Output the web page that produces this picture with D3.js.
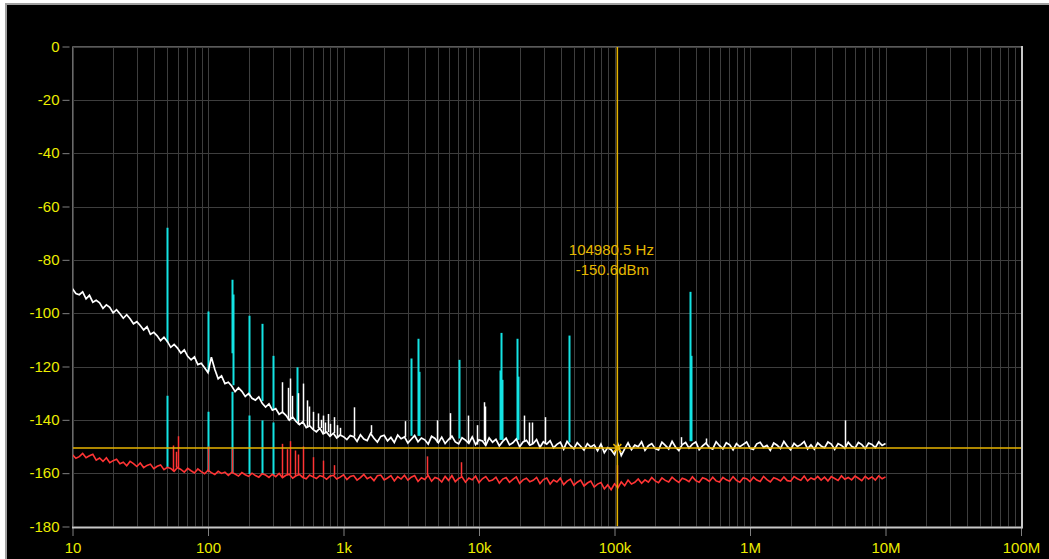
<!DOCTYPE html>
<html>
<head>
<meta charset="utf-8">
<script src="https://cdn.jsdelivr.net/npm/d3@7"></script>
<style>
  html, body { margin: 0; padding: 0; background: #fff; }
  svg { display: block; }
  text { font-family: "Liberation Sans", Arial, sans-serif; }
</style>
</head>
<body>
<svg width="1049" height="559"></svg>
<script>
// traces are sampled 40 points per decade, starting at 10 Hz, up to 10 MHz
var traceStart = 10;
var pointsPerDecade = 40;

// white trace (measured spectrum), dBm
var whiteTrace = [
  -90.8, -92.6, -93.1, -92, -94.6, -93.3, -95.9, -95.2, -96.1, -98.2,
  -96.9, -97.8, -99.9, -98.7, -100.2, -101.9, -100.6, -102.1, -104, -103.2,
  -104.6, -106.3, -105.1, -107.9, -107.2, -108.5, -110.3, -109, -110.6, -112.8,
  -111.7, -113.1, -115, -113.8, -116.2, -117.5, -116.4, -119.3, -118.8, -120.5,
  -122.3, -116.5, -121, -124.6, -123.5, -126.4, -125.9, -127.3, -129.4, -128,
  -129.3, -131.2, -130.1, -131.9, -132.6, -131.4, -133.8, -135.2, -134, -136.4,
  -135.8, -137.9, -137.1, -138.3, -140.1, -138.9, -140.6, -141.8, -140.7, -142.9,
  -142.2, -143.6, -144.5, -143.1, -145.3, -144.6, -146.2, -145, -146.8, -145.7,
  -146.3,
  -147.4, -145.9, -146.3, -148.1, -145.6, -147.2, -147.8, -145.1, -146.9, -148.3,
  -146.2, -145.8, -147.9, -146.6, -148.5, -145.7, -147.1, -146.4, -148.7, -147.3,
  -145.9, -148.2, -146.8, -147.5, -149.1, -146.2, -147, -148.6, -146.5, -148.9,
  -147.4, -146.1, -148.3, -149, -146.7, -147.6, -148.8, -146.4, -149.3, -147.5,
  -147.9, -149.6, -146.8, -148.4, -147.3, -149.8, -148.1, -146.9, -149.4, -148.6,
  -147.2, -150.1, -148.3, -147.7, -149.5, -148.9, -147.4, -150.3, -148.2, -149.1,
  -147.8, -150.5, -149.2, -148.4, -151, -148.1, -149.7, -150.8, -148.6, -149.9,
  -151.3, -148.9, -150.2, -149.4, -151.6, -149.1, -152.3, -150.4, -151.2, -153,
  -149.2, -153.4, -150.9, -148.6, -151.2, -149.5, -150.1, -148.2, -151.4, -149.7,
  -148.9, -150.8, -151.3, -148.4, -149.6, -150.9, -148.1, -150.2, -151.5, -149.3,
  -148.5, -150.6, -149.1, -148.3, -151.2, -149.8, -148.7, -150.4, -151, -148.2,
  -149.7, -150.9, -148.6, -149.4, -151.3, -148.9, -150.1, -149.2, -148.3, -150.7,
  -151.1, -149, -148.4, -150.3, -149.6, -151.4, -148.7, -149.5, -150.8, -148.1,
  -149.9, -151.2, -148.8, -150, -149.3, -148.2, -150.9, -149.4, -151, -148.6,
  -149.8, -150.5, -148.3, -149.1, -151.1, -148.9, -149.6, -150.7, -148.4, -149.9,
  -150.6, -148.5, -149.3, -150.8, -148.7, -149.2, -150.4, -148.3, -149.6, -148.9
];

// red trace (noise floor reference), dBm
var redTrace = [
  -153.1, -154.4, -153.8, -152.6, -154.2, -153.5, -152.9, -155.1, -154.3, -155.6,
  -154.2, -156.1, -155.3, -154.8, -156.5, -155.9, -157.2, -155.6, -156.4, -157.5,
  -156.2, -157.9, -157.1, -156.6, -158.3, -157.4, -156.9, -158.7, -157.8, -158.2,
  -159.3, -157.9, -158.6, -159.6, -158.2, -159.1, -159.9, -158.4, -159.4, -160.2,
  -158.9, -159.8, -160.5, -159.3, -160.1, -159.6, -160.8, -159.7, -160.3, -161.1,
  -159.8, -160.6, -161.2, -160, -160.9, -161.5, -160.2, -160.7, -161.6, -160.4,
  -161.3, -160.1, -161.7, -160.8, -160.4, -161.9, -161, -160.5, -161.6, -162.1,
  -160.7, -161.4, -162, -160.9, -161.3, -162.3, -161.1, -160.8, -162.2, -161.5,
  -160.6, -162.4, -161.2, -160.9, -162.6, -161.7, -160.5, -162.1, -161.4, -162.8,
  -161, -160.7, -162.5, -161.8, -160.9, -162.9, -161.3, -162.2, -160.8, -162.6,
  -161.5, -160.9, -163.1, -161.7, -162.4, -160.8, -163, -161.6, -162.1, -163.3,
  -161.2, -162.7, -160.9, -163.2, -162, -161.4, -163.4, -161.8, -162.5, -161.1,
  -163.5, -162.1, -161.3, -163, -162.6, -161.5, -163.7, -162.2, -161.6, -163.4,
  -162.3, -161.4, -163.8, -162.5, -161.9, -163.2, -162.7, -161.6, -163.9, -162.4,
  -161.8, -164.1, -162.6, -163.3, -161.9, -164.3, -163, -162.2, -164.5, -163.4,
  -162.6, -164.8, -163.7, -163, -165.2, -164.1, -163.5, -165.9, -164.4, -166.2,
  -164, -165.5, -163.3, -164.7, -162.6, -164.1, -163.4, -162.2, -163.8, -162.5,
  -163.4, -161.6, -162.9, -163.6, -161.8, -162.7, -163.3, -161.5, -162.6, -163.5,
  -161.9, -162.4, -163.2, -161.4, -162.8, -163.4, -161.7, -162.2, -163.1, -161.5,
  -162.9, -163.3, -161.6, -162.5, -163, -161.3, -162.7, -163.4, -161.8, -162.1,
  -163.2, -161.5, -162.6, -163.1, -161.2, -162.4, -163.3, -161.7, -162.2, -162.9,
  -161.4, -162.8, -163, -161.3, -162.1, -162.7, -161.1, -162.9, -161.8, -162.4,
  -161.2, -162.6, -161.5, -162.9, -161.3, -162, -162.7, -161, -162.3, -161.6,
  -162.5, -161.1, -161.9, -162.8, -161.2, -162.2, -161.4, -162.6, -161, -162.1,
  -161.4
];

// narrow spurs riding on the traces: [frequency Hz, peak dBm]
var whiteSpikes = [
  [350, -125.9], [390, -128], [400, -124.5], [420, -131], [460, -130],
  [500, -126.4], [540, -132.7], [560, -135], [600, -137], [650, -137.6],
  [680, -140], [700, -138.4], [730, -141], [770, -137.8], [800, -141.5],
  [850, -139], [900, -142], [950, -143], [1200, -135.3], [1600, -142],
  [2840, -140.5], [4880, -140.2], [6100, -137.5], [8350, -138.4], [9640, -142],
  [10800, -133.4], [11000, -135], [21400, -138.4], [23500, -141], [24500, -141],
  [30800, -139], [312000, -146.5], [470000, -147], [5000000, -140.2]
];
var redSpikes = [
  [55, -149.6], [58, -152], [60, -146.2], [100, -150], [150, -151],
  [350, -149], [380, -151], [400, -148], [437, -151.5], [460, -153],
  [500, -150], [600, -154], [700, -155.3], [850, -157], [4100, -153.7],
  [7370, -155.9], [105000, -157]
];

// cyan hum / spur lines: [frequency Hz, top dBm, bottom dBm]
var cyanUpper = [
  [50, -68, -111], [100, -99.4, -122], [150, -87.5, -115], [152, -93, -127],
  [200, -101, -131], [250, -104, -133], [300, -116, -136], [450, -120.3, -140.5],
  [3150, -117, -146], [3565, -109.6, -146], [3620, -122, -146], [7160, -117.5, -147],
  [14300, -121.5, -147.5], [14500, -107.4, -147.5], [14800, -125, -147.5],
  [19000, -109.6, -147.5], [19300, -123.8, -147.5], [45800, -108.4, -148.5],
  [363000, -92, -148], [368000, -116, -148]
];
var cyanLower = [
  [50, -131, -158], [100, -137, -159.5], [150, -129.5, -160], [200, -138.4, -160.3],
  [250, -140.2, -160.5], [300, -141, -160.8]
];

var yTicks = [0, -20, -40, -60, -80, -100, -120, -140, -160, -180];
var xTicks = [10, 100, 1e3, 1e4, 1e5, 1e6, 1e7, 1e8];
var xTickLabels = ['10', '100', '1k', '10k', '100k', '1M', '10M', '100M'];

var cursorFreq = 104980.5;
var cursorLevel = -150.6;

var svg = d3.select('svg');

// window frame
svg.append('rect')
  .attr('x', 6).attr('y', 4).attr('width', 1100).attr('height', 600)
  .attr('fill', '#000').attr('stroke', '#a0a0a0').attr('stroke-width', 2);

var x = d3.scaleLog().domain([10, 1e8]).range([72.5, 1021]);
var y = d3.scaleLinear().domain([0, -180]).range([46.5, 526.5]);

function px(v) { return Math.round(v) + 0.5; }

// grid
var grid = svg.append('g');
var minor = [];
for (var dec = 10; dec < 1e8; dec *= 10) {
  for (var m = 1; m < 10; m++) minor.push(dec * m);
}
minor.push(1e8);
grid.selectAll('line.v').data(minor).enter().append('line')
  .attr('x1', function(d) { return px(x(d)); })
  .attr('x2', function(d) { return px(x(d)); })
  .attr('y1', y(0)).attr('y2', y(-180))
  .attr('stroke', '#3e3e3e').attr('stroke-width', 1);
grid.selectAll('line.h').data(yTicks).enter().append('line')
  .attr('x1', x(10)).attr('x2', x(1e8))
  .attr('y1', function(d) { return px(y(d)); })
  .attr('y2', function(d) { return px(y(d)); })
  .attr('stroke', '#3e3e3e').attr('stroke-width', 1);

// axes
var yAxis = svg.append('g')
  .attr('transform', 'translate(69.5,0)')
  .call(d3.axisLeft(y).tickValues(yTicks).tickSize(7).tickPadding(3)
    .tickFormat(function(d) { return d; }));
var xAxis = svg.append('g')
  .attr('transform', 'translate(0,528)')
  .call(d3.axisBottom(x).tickValues(xTicks).tickSize(8).tickPadding(6)
    .tickFormat(function(d, i) { return xTickLabels[i]; }));
[yAxis, xAxis].forEach(function(a) {
  a.select('.domain').remove();
  a.selectAll('line').attr('stroke', '#808080');
  a.selectAll('text').attr('fill', '#ecec00')
    .style('font-size', '15px')
    .style('font-family', '"Liberation Sans", Arial, sans-serif');
});

// plot clip
svg.append('clipPath').attr('id', 'plot')
  .append('rect').attr('x', x(10)).attr('y', y(0))
  .attr('width', x(1e8) - x(10)).attr('height', y(-180) - y(0));
var plot = svg.append('g').attr('clip-path', 'url(#plot)');

function freqAt(i) { return traceStart * Math.pow(10, i / pointsPerDecade); }
function sampleAt(trace, f) {
  var i = Math.round(Math.log10(f / traceStart) * pointsPerDecade);
  return trace[Math.max(0, Math.min(trace.length - 1, i))];
}
var line = d3.line()
  .x(function(d, i) { return x(freqAt(i)); })
  .y(function(d) { return y(d); });

// cyan lines (underneath)
plot.selectAll('line.cyan').data(cyanUpper.concat(cyanLower)).enter().append('line')
  .attr('x1', function(d) { return px(x(d[0])); })
  .attr('x2', function(d) { return px(x(d[0])); })
  .attr('y1', function(d) { return y(d[1]); })
  .attr('y2', function(d) { return y(d[2]); })
  .attr('stroke', '#14e4e4').attr('stroke-width', 2);

// red trace
plot.append('path').datum(redTrace)
  .attr('d', line).attr('fill', 'none')
  .attr('stroke', '#ff3434').attr('stroke-width', 1.6);
plot.selectAll('line.rs').data(redSpikes).enter().append('line')
  .attr('x1', function(d) { return px(x(d[0])); })
  .attr('x2', function(d) { return px(x(d[0])); })
  .attr('y1', function(d) { return y(sampleAt(redTrace, d[0])); })
  .attr('y2', function(d) { return y(d[1]); })
  .attr('stroke', '#ff3434').attr('stroke-width', 1.5);

// white trace
plot.append('path').datum(whiteTrace)
  .attr('d', line).attr('fill', 'none')
  .attr('stroke', '#ffffff').attr('stroke-width', 1.7);
plot.selectAll('line.ws').data(whiteSpikes).enter().append('line')
  .attr('x1', function(d) { return px(x(d[0])); })
  .attr('x2', function(d) { return px(x(d[0])); })
  .attr('y1', function(d) { return y(sampleAt(whiteTrace, d[0])); })
  .attr('y2', function(d) { return y(d[1]); })
  .attr('stroke', '#ffffff').attr('stroke-width', 1.5);

// cursor lines
var cx = x(cursorFreq), cy = y(cursorLevel);
plot.append('line')
  .attr('x1', x(10)).attr('x2', x(1e8)).attr('y1', cy).attr('y2', cy)
  .attr('stroke', '#e8b400').attr('stroke-width', 1.5);
plot.append('line')
  .attr('x1', cx).attr('x2', cx).attr('y1', y(0)).attr('y2', y(-180))
  .attr('stroke', '#e8b400').attr('stroke-width', 1.5);
plot.append('path')
  .attr('d', 'M' + (cx - 4) + ',' + (cy - 4) + 'L' + (cx + 4) + ',' + (cy + 4) +
    'M' + (cx - 4) + ',' + (cy + 4) + 'L' + (cx + 4) + ',' + (cy - 4))
  .attr('stroke', '#e8b400').attr('stroke-width', 1.5);

// cursor readout
var readout = svg.append('g').attr('fill', '#e6b800').attr('text-anchor', 'middle')
  .style('font-size', '15px');
readout.append('text').attr('x', cx - 6).attr('y', 255).text(cursorFreq + ' Hz');
readout.append('text').attr('x', cx - 5).attr('y', 275).text(cursorLevel + 'dBm');

// plot border
svg.append('line').attr('x1', x(10)).attr('x2', 1022).attr('y1', 46.5).attr('y2', 46.5)
  .attr('stroke', '#5a5a5a');
svg.append('line').attr('x1', 72.5).attr('x2', 72.5).attr('y1', 46.5).attr('y2', 527)
  .attr('stroke', '#6a6a6a');
svg.append('line').attr('x1', 1022).attr('x2', 1022).attr('y1', 46).attr('y2', 528)
  .attr('stroke', '#c8c8c8').attr('stroke-width', 2);
svg.append('line').attr('x1', 72).attr('x2', 1023).attr('y1', 527.5).attr('y2', 527.5)
  .attr('stroke', '#c8c8c8').attr('stroke-width', 2);
</script>
</body>
</html>
